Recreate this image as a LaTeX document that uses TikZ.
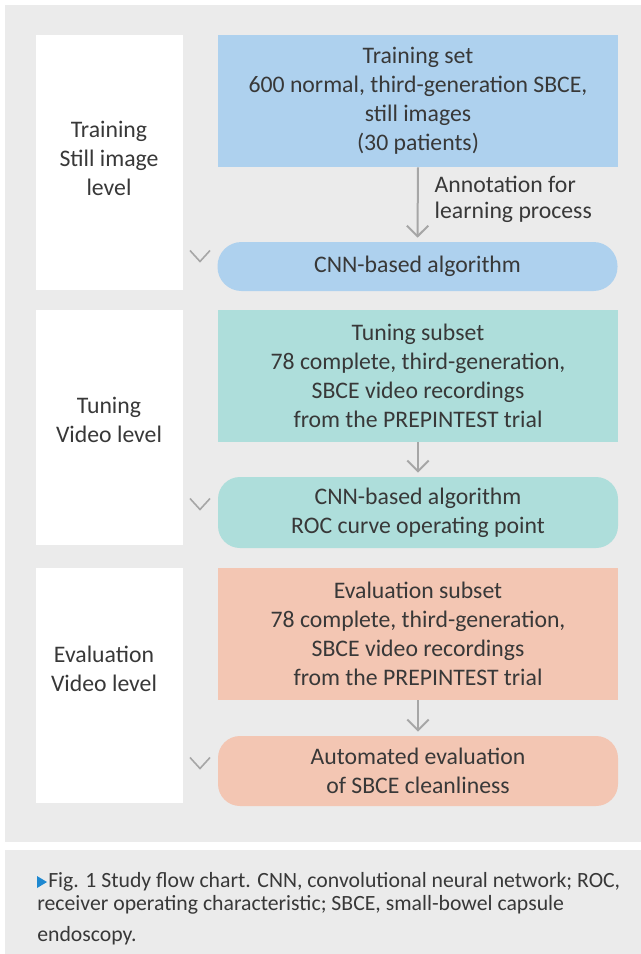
\documentclass[tikz,border=0pt]{standalone}
\usepackage{fontspec}
\setmainfont{Carlito}
\usetikzlibrary{arrows.meta,positioning}

\definecolor{panelgray}{HTML}{EBEBEB}
\definecolor{trainblue}{HTML}{AED1EE}
\definecolor{tuneteal}{HTML}{AEDEDB}
\definecolor{evalsalmon}{HTML}{F3C6B3}
\definecolor{arrowgray}{HTML}{A6A6A6}
\definecolor{textgray}{HTML}{383838}
\definecolor{markblue}{HTML}{1E88D0}

\newcommand\mainsize{\fontsize{17.8}{21.75}\selectfont}
\newcommand\capsize{\fontsize{16.3}{16.3}\selectfont}

\begin{document}
\begin{tikzpicture}[x=0.75pt,y=-0.75pt,
  every node/.style={text=textgray,font=\mainsize},
  levelbox/.style={fill=white,minimum width=110.25pt,inner sep=0pt},
  levellabel/.style={align=center},
  stagebox/.style={minimum width=300pt,minimum height=99pt,align=center,inner sep=0pt},
  pillbox/.style={minimum width=300pt,align=center,inner sep=0pt},
  flowarrow/.style={draw=arrowgray,line width=1.5pt,-{Straight Barb[length=8pt,width=16pt]}},
  chevron/.style={draw=arrowgray,line width=1.2pt}
]
\useasboundingbox (0,0) rectangle (641,954);

% Panels
\fill[panelgray] (5,5) rectangle (641,842);
\fill[panelgray] (5,850) rectangle (641,954);

% Level boxes
\node[levelbox,minimum height=191.25pt] (trainlvl) at (109.5,162.5) {};
\node[levelbox,minimum height=176.25pt] (tunelvl) at (109.5,427.5) {};
\node[levelbox,minimum height=176.25pt] (evallvl) at (109.5,685.5) {};

\node[levellabel] (trainlbl) at (109,158) {Training\\Still image\\level};
\node[levellabel] (tunelbl) at (109,420) {Tuning\\Video level};
\node[levellabel] (evallbl) at (104,669) {Evaluation\\Video level};

% Data sets
\node[stagebox,fill=trainblue] (trainset) at (418,101)
  {Training set\\600 normal, third-generation SBCE,\\still images\\(30 patients)};
\node[stagebox,fill=tuneteal] (tuneset) at (418,376)
  {Tuning subset\\78 complete, third-generation,\\SBCE video recordings\\from the PREPINTEST trial};
\node[stagebox,fill=evalsalmon] (evalset) at (418,634)
  {Evaluation subset\\78 complete, third-generation,\\SBCE video recordings\\from the PREPINTEST trial};

% Algorithm steps
\node[pillbox,fill=trainblue,minimum height=36.75pt,rounded corners=18pt] (trainalg) at (417.5,266.5)
  {CNN-based algorithm};
\node[pillbox,fill=tuneteal,minimum height=53.25pt,rounded corners=16.5pt] (tunealg) at (418,512.5)
  {CNN-based algorithm\\ROC curve operating point};
\node[pillbox,fill=evalsalmon,minimum height=52.5pt,rounded corners=16.5pt] (evalalg) at (418,771)
  {Automated evaluation\\of SBCE cleanliness};

% Arrows
\draw[flowarrow] (trainset.south) -- ([yshift=3pt]trainalg.north);
\draw[flowarrow] (tuneset.south) -- ([yshift=3pt]tunealg.north);
\draw[flowarrow] (evalset.south) -- ([yshift=3pt]evalalg.north);

\node[anchor=west,align=left,font=\fontsize{17.8}{19.5}\selectfont] (annot) at (430,199)
  {Annotation for\\learning process};

% Chevrons
\foreach \cy in {256,504,763}
  \draw[chevron] (190,\cy-5.5) -- (200,\cy+5.5) -- (210,\cy-5.5);

% Caption
\fill[markblue] (37,876) -- (47,882) -- (37,888) -- cycle;
\node[anchor=west,inner sep=0pt,font=\capsize] (capone) at (48,882)
  {Fig. 1 Study flow chart. CNN, convolutional neural network; ROC,};
\node[anchor=west,inner sep=0pt,font=\capsize] (captwo) at (37,905)
  {receiver operating characteristic; SBCE, small-bowel capsule};
\node[anchor=west,inner sep=0pt,font=\capsize] (capthree) at (37,936)
  {endoscopy.};
\end{tikzpicture}
\end{document}
